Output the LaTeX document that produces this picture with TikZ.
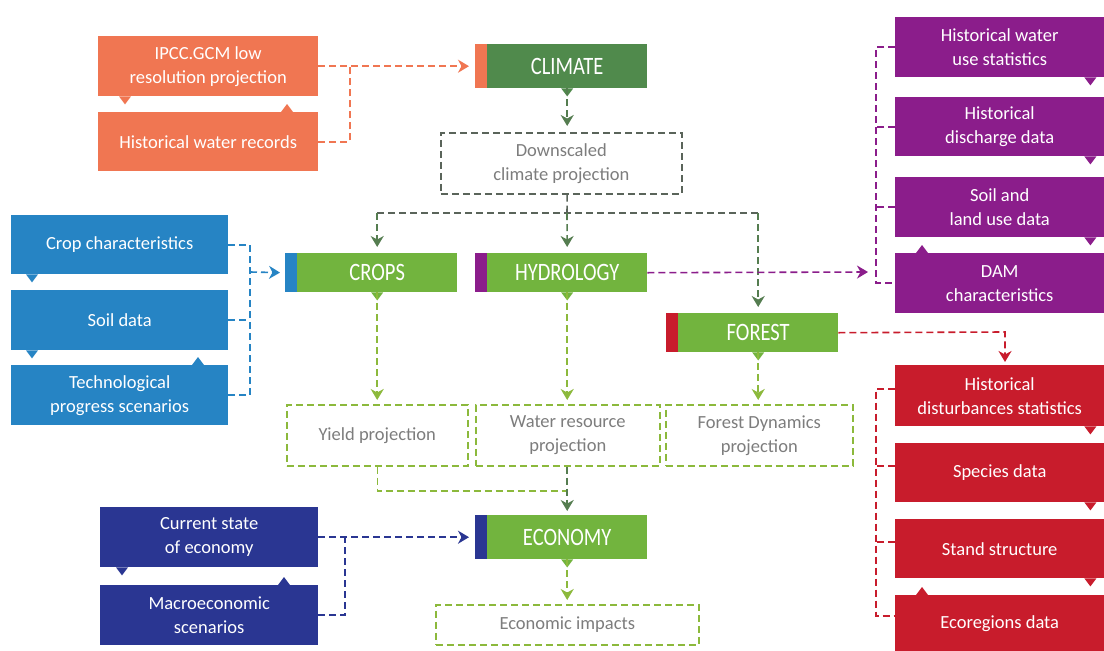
\documentclass[tikz,border=0pt]{standalone}
\usepackage{fontspec}
\setmainfont{Carlito}
\newfontfamily\capfont{Carlito}[FakeStretch=0.82]
\usetikzlibrary{arrows.meta,calc}
\definecolor{orng}{RGB}{240,118,82}
\definecolor{dgreen}{RGB}{80,138,76}
\definecolor{lgreen}{RGB}{114,180,62}
\definecolor{cblue}{RGB}{38,132,196}
\definecolor{cpurple}{RGB}{139,29,139}
\definecolor{cred}{RGB}{200,28,44}
\definecolor{dblue}{RGB}{42,54,146}
\definecolor{dashgreen}{RGB}{140,185,60}
\definecolor{dashgray}{RGB}{90,100,90}
\definecolor{gtext}{RGB}{125,125,125}
\definecolor{linegreen}{RGB}{85,125,80}
\tikzset{
  infobox/.style={anchor=north west, inner sep=2pt, align=center, text=white,
    font=\fontsize{18.5}{24}\selectfont},
  mainbox/.style={anchor=north west, fill=lgreen, text=white, inner sep=0pt,
    font=\capfont\fontsize{25}{28}\selectfont},
  projbox/.style={anchor=north west, draw=dashgreen, line width=1.6pt,
    dash pattern=on 7pt off 4pt, text=gtext, align=center,
    font=\fontsize{18.5}{24}\selectfont},
  conn/.style={line width=1.6pt, dash pattern=on 7pt off 4pt},
  arr/.style={conn, -{Stealth[length=11pt,width=13pt,inset=3.5pt]}},
  pdown/.pic={\fill (-6,0) -- (6,0) -- (0,8) -- cycle;},
  pup/.pic={\fill (-6,0) -- (6,0) -- (0,-8) -- cycle;}
}
\begin{document}
\begin{tikzpicture}[x=1pt,y=-1pt]
\useasboundingbox[fill=white] (0,0) rectangle (1104,651);

% ---------- orange inputs
\node[infobox, fill=orng, minimum width=220pt, minimum height=60pt] (ipcc) at (98,36) {IPCC.GCM low\\resolution projection};
\node[infobox, fill=orng, minimum width=220pt, minimum height=59pt] (hwr) at (98,112) {Historical water records};
\pic[color=orng] at ($(ipcc.south west)+(27,0)$) {pdown};
\pic[color=orng] at ($(hwr.north west)+(189,0)$) {pup};

% ---------- main boxes
\node[mainbox, fill=dgreen, minimum width=160pt, minimum height=44pt] (climate) at (487,44) {CLIMATE};
\fill[orng] (climate.north west) rectangle ([xshift=-12pt]climate.south west);
\pic[color=dgreen] at (climate.south) {pdown};

\node[mainbox, minimum width=160pt, minimum height=39pt] (crops) at (297,253) {CROPS};
\fill[cblue] (crops.north west) rectangle ([xshift=-12pt]crops.south west);
\pic[color=lgreen] at (crops.south) {pdown};

\node[mainbox, minimum width=160pt, minimum height=39pt] (hydro) at (487,253) {HYDROLOGY};
\fill[cpurple] (hydro.north west) rectangle ([xshift=-12pt]hydro.south west);
\pic[color=lgreen] at (hydro.south) {pdown};

\node[mainbox, minimum width=160pt, minimum height=39pt] (forest) at (678,313) {FOREST};
\fill[cred] (forest.north west) rectangle ([xshift=-12pt]forest.south west);
\pic[color=lgreen] at (forest.south) {pdown};

\node[mainbox, minimum width=160pt, minimum height=44pt] (econ) at (487,515) {ECONOMY};
\fill[dblue] (econ.north west) rectangle ([xshift=-12pt]econ.south west);
\pic[color=lgreen] at (econ.south) {pdown};

% ---------- dashed projection boxes
\node[projbox, draw=dashgray, minimum width=241pt, minimum height=61pt] (down) at (440,132) {Downscaled\\climate projection};
\node[projbox, minimum width=181pt, minimum height=61pt] (yield) at (286,404) {Yield projection};
\node[projbox, minimum width=184pt, minimum height=61pt] (water) at (475,404) {Water resource\\projection};
\node[projbox, minimum width=187pt, minimum height=61pt] (fdyn) at (665,404) {Forest Dynamics\\projection};
\node[projbox, minimum width=263pt, minimum height=40pt] (impact) at (435,604) {Economic impacts};

% ---------- blue inputs
\node[infobox, fill=cblue, minimum width=217pt, minimum height=59pt] (cropc) at (11,215) {Crop characteristics};
\node[infobox, fill=cblue, minimum width=217pt, minimum height=60pt] (soil) at (11,290) {Soil data};
\node[infobox, fill=cblue, minimum width=217pt, minimum height=60pt] (tech) at (11,365) {Technological\\progress scenarios};
\pic[color=cblue] at ($(cropc.south west)+(21,0)$) {pdown};
\pic[color=cblue] at ($(soil.south west)+(21,0)$) {pdown};
\pic[color=cblue] at ($(tech.north west)+(187,0)$) {pup};

% ---------- purple inputs
\node[infobox, fill=cpurple, minimum width=209pt, minimum height=60pt] (hwu) at (895,17) {Historical water\\use statistics};
\node[infobox, fill=cpurple, minimum width=209pt, minimum height=59pt] (hdd) at (895,97) {Historical\\discharge data};
\node[infobox, fill=cpurple, minimum width=209pt, minimum height=60pt] (slu) at (895,177) {Soil and\\land use data};
\node[infobox, fill=cpurple, minimum width=209pt, minimum height=60pt] (dam) at (895,253) {DAM\\characteristics};
\pic[color=cpurple] at ($(hwu.south east)+(-14,0)$) {pdown};
\pic[color=cpurple] at ($(hdd.south east)+(-14,0)$) {pdown};
\pic[color=cpurple] at ($(slu.south east)+(-14,0)$) {pdown};
\pic[color=cpurple] at ($(dam.north west)+(27,0)$) {pup};

% ---------- red inputs
\node[infobox, fill=cred, minimum width=209pt, minimum height=61pt] (hds) at (895,365) {Historical\\disturbances statistics};
\node[infobox, fill=cred, minimum width=209pt, minimum height=59pt] (spec) at (895,443) {Species data};
\node[infobox, fill=cred, minimum width=209pt, minimum height=59pt] (stand) at (895,519) {Stand structure};
\node[infobox, fill=cred, minimum width=209pt, minimum height=56pt] (eco) at (895,595) {Ecoregions data};
\pic[color=cred] at ($(hds.south east)+(-14,0)$) {pdown};
\pic[color=cred] at ($(spec.south east)+(-14,0)$) {pdown};
\pic[color=cred] at ($(stand.south east)+(-14,0)$) {pdown};
\pic[color=cred] at ($(eco.north west)+(27,0)$) {pup};

% ---------- dark blue inputs
\node[infobox, fill=dblue, minimum width=218pt, minimum height=60pt] (cur) at (100,507) {Current state\\of economy};
\node[infobox, fill=dblue, minimum width=218pt, minimum height=60pt] (macro) at (100,585) {Macroeconomic\\scenarios};
\pic[color=dblue] at ($(cur.south west)+(22,0)$) {pdown};
\pic[color=dblue] at ($(macro.north west)+(184,0)$) {pup};

% ---------- junction coordinates
\coordinate (oj) at (350,66);
\coordinate (split) at (567,213);
\coordinate (bj) at (250,272);
\coordinate (pj) at (868,272);
\coordinate (pv) at (876,0);
\coordinate (rj) at (1005,332);
\coordinate (ej) at (567,491);
\coordinate (dbj) at (345,537);

% ---------- orange connectors
\draw[arr, orng, shorten >=6pt] (ipcc.east) -- ([xshift=-12pt]climate.west);
\draw[conn, orng] (hwr.east) -| (oj);

% ---------- climate chain
\draw[arr, linegreen, shorten >=6pt] (climate.south) -- (climate.south |- down.north);
\draw[conn, dashgray] (climate.south |- down.south) -- (split);
\draw[conn, dashgray] (crops.north |- split) -- (forest.north |- split);
\draw[arr, linegreen, shorten >=6pt] (crops.north |- split) -- (crops.north);
\draw[arr, linegreen, shorten >=6pt] (split) -- (hydro.north);
\draw[arr, linegreen, shorten >=6pt] (forest.north |- split) -- (forest.north);

% ---------- to projections
\draw[arr, dashgreen, shorten >=4pt] (crops.south) -- (crops.south |- yield.north);
\draw[arr, dashgreen, shorten >=4pt] (hydro.south) -- (hydro.south |- water.north);
\draw[arr, dashgreen, shorten >=4pt] (forest.south) -- (forest.south |- fdyn.north);

% ---------- to economy
\draw[conn, dashgreen] (yield.south) |- (ej);
\draw[arr, linegreen, shorten >=4pt] (econ.north |- water.south) -- (econ.north);
\draw[arr, dashgreen, shorten >=4pt] (econ.south) -- (econ.south |- impact.north);

% ---------- blue connectors
\draw[conn, cblue] (cropc.east) -- (cropc.east -| bj) -- (tech.east -| bj) -- (tech.east);
\draw[conn, cblue] (soil.east) -- (soil.east -| bj);
\draw[arr, cblue, shorten >=5pt] (bj) -- ([xshift=-12pt]crops.west);

% ---------- purple connectors
\draw[arr, cpurple] (hydro.east) -- (pj);
\draw[conn, cpurple] (hwu.west) -- (hwu.west -| pv) -- (dam.west -| pv) -- (dam.west);
\draw[conn, cpurple] (hdd.west) -- (hdd.west -| pv);
\draw[conn, cpurple] (slu.west) -- (slu.west -| pv);

% ---------- red connectors
\draw[arr, cred, shorten >=3pt] (forest.east) -- (rj) -- (rj |- hds.north);
\draw[conn, cred] ([yshift=7pt]hds.west) -- ([yshift=7pt]hds.west -| pv) -- ([yshift=7pt]eco.west -| pv) -- ([yshift=7pt]eco.west);
\draw[conn, cred] ([yshift=7pt]spec.west) -- ([yshift=7pt]spec.west -| pv);
\draw[conn, cred] ([yshift=7pt]stand.west) -- ([yshift=7pt]stand.west -| pv);

% ---------- dark blue connectors
\draw[arr, dblue, shorten >=6pt] (cur.east) -- ([xshift=-12pt]econ.west);
\draw[conn, dblue] (macro.east) -| (dbj);
\end{tikzpicture}
\end{document}
